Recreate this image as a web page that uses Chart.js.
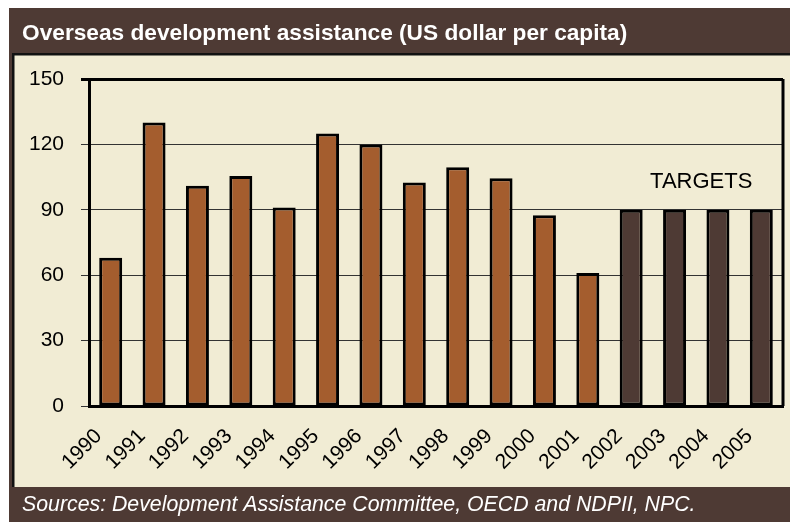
<!DOCTYPE html>
<html>
<head>
<meta charset="utf-8">
<script src="https://cdn.jsdelivr.net/npm/chart.js@4"></script>
<style>
  html, body { margin: 0; padding: 0; background: #fff; }
  #wrap { width: 790px; height: 522px; }
</style>
</head>
<body>
<div id="wrap"><canvas id="oda-chart"></canvas></div>
<script>
const years = ["1990", "1991", "1992", "1993", "1994", "1995", "1996", "1997",
  "1998", "1999", "2000", "2001", "2002", "2003", "2004", "2005"];
const perCapita = [68, 130, 101, 105.5, 91, 125, 120, 102.5, 109.5, 104.5, 87.5, 61, 90, 90, 90, 90];
const isTarget = [false, false, false, false, false, false, false, false,
  false, false, false, false, true, true, true, true];
const yTicks = [0, 30, 60, 90, 120, 150];

const titleText = "Overseas development assistance (US dollar per capita)";
const sourceText = "Sources: Development Assistance Committee, OECD and NDPII, NPC.";
const targetLabel = "TARGETS";

const brown = "#4e3a34";
const cream = "#f1ecd4";
const actualColor = "#a45d2e";

const framePlugin = {
  id: "frame",
  beforeDraw(chart) {
    const c = chart.ctx;
    const w = chart.width, h = chart.height;
    c.save();
    c.fillStyle = "#fff";
    c.fillRect(0, 0, w, h);
    c.fillStyle = brown;
    c.fillRect(9, 8, w - 9, h - 8);
    c.fillStyle = cream;
    c.fillRect(12, 53, w - 12, 434);
    c.fillStyle = "#111";
    c.fillRect(12, 53, w - 12, 2.5);
    c.fillRect(12, 53, 2.5, 434);
    c.restore();
  },
  afterDatasetsDraw(chart) {
    const c = chart.ctx;
    const a = chart.chartArea;
    c.save();
    c.strokeStyle = "#000";
    c.lineWidth = 3;
    c.beginPath();
    c.moveTo(a.right, a.top);
    c.lineTo(a.right, a.bottom);
    c.stroke();
    c.restore();
  },
  afterDraw(chart) {
    const c = chart.ctx;
    c.save();
    c.fillStyle = "#fff";
    c.textBaseline = "alphabetic";
    c.font = "bold 22.7px 'Liberation Sans', Arial, sans-serif";
    c.fillText(titleText, 22, 40);
    c.font = "italic 21.3px 'Liberation Sans', Arial, sans-serif";
    c.fillText(sourceText, 22, 511);

    // label over the target bars
    const xs = chart.scales.x;
    const ys = chart.scales.y;
    const idx = isTarget.map((t, i) => t ? i : -1).filter(i => i >= 0);
    const cx = idx.reduce((s, i) => s + xs.getPixelForValue(i), 0) / idx.length;
    c.fillStyle = "#000";
    c.font = "22px 'Liberation Sans', Arial, sans-serif";
    c.textAlign = "center";
    c.fillText(targetLabel, cx + 5, ys.getPixelForValue(100));
    c.restore();
  }
};

new Chart(document.getElementById("oda-chart"), {
  type: "bar",
  data: {
    labels: years,
    datasets: [{
      data: perCapita,
      backgroundColor: isTarget.map(t => t ? brown : actualColor),
      borderColor: "#000",
      borderWidth: 3,
      borderSkipped: false,
      categoryPercentage: 1,
      barPercentage: 0.53
    }]
  },
  options: {
    responsive: true,
    maintainAspectRatio: false,
    animation: false,
    devicePixelRatio: 1,
    layout: { padding: { left: 22, right: 7, top: 79, bottom: 0 } },
    plugins: { legend: { display: false }, tooltip: { enabled: false } },
    scales: {
      x: {
        offset: true,
        grid: { display: false, drawTicks: false },
        border: { display: true, color: "#000", width: 3 },
        ticks: {
          color: "#000",
          font: { family: "'Liberation Sans', Arial, sans-serif", size: 21 },
          autoSkip: false,
          minRotation: 45,
          maxRotation: 45,
          padding: 18,
          labelOffset: -12
        },
        afterFit(scale) {
          scale.height = 116;
          scale.paddingLeft = 0;
          scale.paddingRight = 0;
        }
      },
      y: {
        min: 0,
        max: 150,
        afterBuildTicks(scale) { scale.ticks = yTicks.map(v => ({ value: v })); },
        grid: {
          color: ctx => ctx.tick && ctx.tick.value === 150 ? "#000" : "#333",
          lineWidth: ctx => ctx.tick && ctx.tick.value === 150 ? 3 : 1,
          tickLength: 8
        },
        border: { display: true, color: "#000", width: 3 },
        ticks: {
          color: "#000",
          font: { family: "'Liberation Sans', Arial, sans-serif", size: 21 },
          padding: 17
        },
        afterFit(scale) {
          scale.width = 67;
          scale.paddingTop = 0;
          scale.paddingBottom = 0;
        }
      }
    }
  },
  plugins: [framePlugin]
});
</script>
</body>
</html>
